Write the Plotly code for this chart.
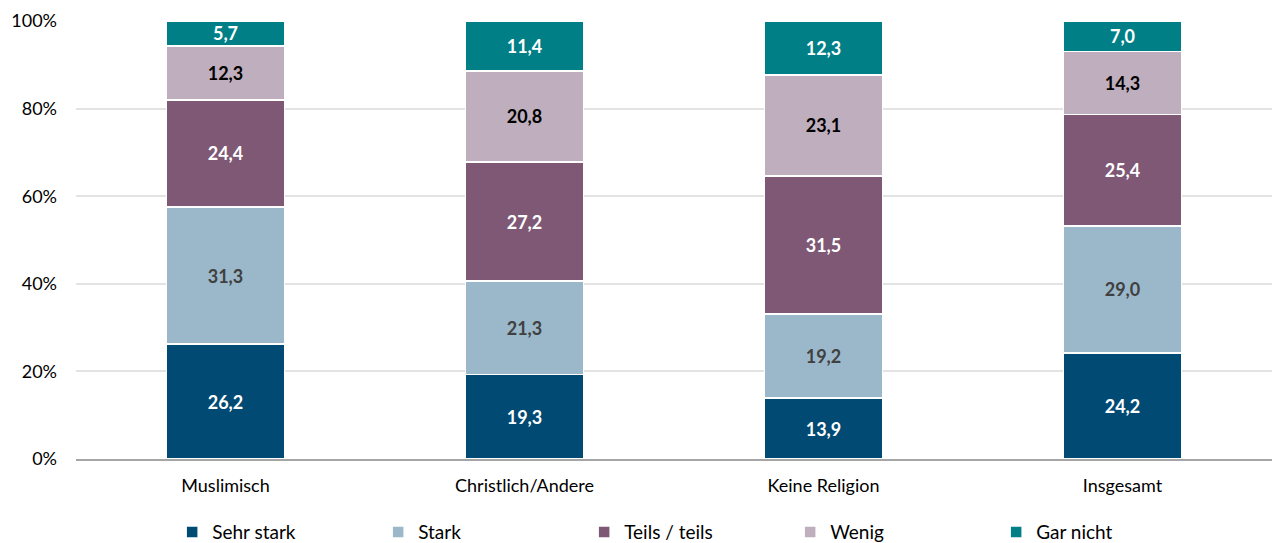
import plotly.graph_objects as go

categories = ["Muslimisch", "Christlich/Andere", "Keine Religion", "Insgesamt"]
series_names = ["Sehr stark", "Stark", "Teils / teils", "Wenig", "Gar nicht"]
sehr_stark = [26.2, 19.3, 13.9, 24.2]
stark = [31.3, 21.3, 19.2, 29.0]
teils = [24.4, 27.2, 31.5, 25.4]
wenig = [12.3, 20.8, 23.1, 14.3]
gar_nicht = [5.7, 11.4, 12.3, 7.0]

values = [sehr_stark, stark, teils, wenig, gar_nicht]
colors = ["#004a73", "#9bb8cb", "#7e5875", "#bfaebd", "#007f87"]
text_colors = ["#ffffff", "#404040", "#ffffff", "#000000", "#ffffff"]

FONT = "Lato"

fig = go.Figure()
for name, vals, col, tcol in zip(series_names, values, colors, text_colors):
    fig.add_trace(go.Bar(
        x=categories, y=vals, name=name,
        marker=dict(color=col, line=dict(color="white", width=1.5)),
        text=[f"{v:.1f}".replace(".", ",") for v in vals],
        textposition="inside", insidetextanchor="middle",
        constraintext="none",
        textfont=dict(color=tcol, size=18, family=FONT),
        texttemplate="<b>%{text}</b>",
        hoverinfo="skip",
    ))

fig.update_layout(
    barmode="stack", barnorm="percent", bargap=0.605,
    width=1275, height=543,
    margin=dict(l=76, r=3, t=21, b=84, autoexpand=False),
    plot_bgcolor="white", paper_bgcolor="white",
    font=dict(family=FONT, size=18, color="#000000"),
    legend=dict(orientation="h", x=0.511, xanchor="center", y=-0.167, yanchor="middle",
                entrywidth=161, font=dict(size=19), traceorder="normal",
                itemwidth=30),
    xaxis=dict(showline=True, linecolor="#a6a6a6", linewidth=1.5, ticks="",
               tickfont=dict(size=18), automargin=False, ticklabelstandoff=10),
    yaxis=dict(range=[0, 100], dtick=20, ticksuffix="%", showgrid=True,
               gridcolor="#e3e3e3", gridwidth=1.5, zeroline=False,
               tickfont=dict(size=18), automargin=False, ticklabelstandoff=18),
)
fig.write_html("out.html", config={"displayModeBar": False},
               post_script="document.body.style.margin='0';document.body.style.overflow='hidden';")
